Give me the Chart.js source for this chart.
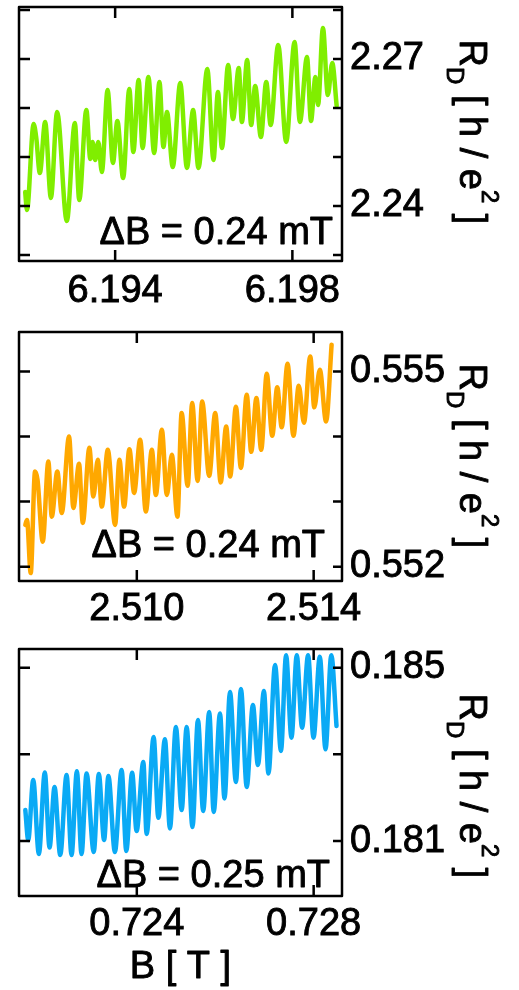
<!DOCTYPE html>
<html lang="en">
<head>
  <meta charset="UTF-8" />
  <title>R_D oscillations</title>
  <script src="https://cdn.jsdelivr.net/npm/chart.js"></script>
  <style>
    body { margin: 0; background: #fff; }
    .panel { position: absolute; left: 0; }
  </style>
</head>
<body>
  <canvas id="c1" class="panel" width="519" height="320" style="top:0"></canvas>
  <canvas id="c2" class="panel" width="519" height="320" style="top:320px"></canvas>
  <canvas id="c3" class="panel" width="519" height="350" style="top:640px"></canvas>

  <script>
    // B around 6.196 T
    const b1 = [6.19197, 6.19201, 6.19216, 6.19222, 6.19230, 6.19242, 6.19255, 6.19269, 6.19291, 6.19309,
      6.19319, 6.19335, 6.19344, 6.19349, 6.19355, 6.19362, 6.19370, 6.19383, 6.19395, 6.19405,
      6.19418, 6.19432, 6.19441, 6.19453, 6.19462, 6.19475, 6.19488, 6.19500, 6.19509, 6.19517,
      6.19530, 6.19547, 6.19562, 6.19576, 6.19588, 6.19608, 6.19622, 6.19632, 6.19641, 6.19655,
      6.19666, 6.19679, 6.19686, 6.19698, 6.19707, 6.19716, 6.19729, 6.19741, 6.19751, 6.19768,
      6.19786, 6.19805, 6.19817, 6.19833, 6.19842, 6.19852, 6.19858, 6.19869, 6.19880, 6.19890, 6.19900];
    const r1 = [2.24286, 2.23918, 2.25673, 2.25388, 2.24673, 2.25714, 2.24163, 2.25918, 2.23694, 2.25694,
      2.24122, 2.25959, 2.24959, 2.25306, 2.24939, 2.25306, 2.24694, 2.26367, 2.24878, 2.25735,
      2.24571, 2.26388, 2.25102, 2.26571, 2.25184, 2.26633, 2.25082, 2.26531, 2.25204, 2.25918,
      2.24796, 2.26510, 2.24776, 2.25959, 2.24776, 2.26796, 2.24939, 2.26327, 2.25184, 2.26878,
      2.25776, 2.26816, 2.25714, 2.26980, 2.25653, 2.26449, 2.25408, 2.26531, 2.25653, 2.27286,
      2.25306, 2.27347, 2.25714, 2.27041, 2.25735, 2.26633, 2.26061, 2.27633, 2.26265, 2.26918, 2.26041];
    const xTicks1 = [6.194, 6.198];
    const yTicks1 = [2.24, 2.27];
    const yMarks1 = [2.23, 2.24, 2.25, 2.26, 2.27, 2.28];

    // B around 2.511 T
    const b2 = [2.507478, 2.507516, 2.507600, 2.507698, 2.507754, 2.507872, 2.507999, 2.508076, 2.508202, 2.508302,
      2.508467, 2.508565, 2.508694, 2.508777, 2.508927, 2.509017, 2.509117, 2.509208, 2.509343, 2.509509,
      2.509606, 2.509712, 2.509832, 2.509939, 2.510075, 2.510204, 2.510340, 2.510430, 2.510566, 2.510679,
      2.510792, 2.510919, 2.511014, 2.511150, 2.511252, 2.511376, 2.511478, 2.511637, 2.511773, 2.511897,
      2.512022, 2.512112, 2.512241, 2.512355, 2.512486, 2.512588, 2.512705, 2.512814, 2.512939, 2.513063,
      2.513176, 2.513278, 2.513409, 2.513543, 2.513663, 2.513781, 2.513923, 2.514014, 2.514139, 2.514281, 2.514406];
    const r2 = [0.552642, 0.552718, 0.551903, 0.553462, 0.553334, 0.552385, 0.553615, 0.552769, 0.553462, 0.552826,
      0.554000, 0.552903, 0.553580, 0.552672, 0.553826, 0.553077, 0.553642, 0.552923, 0.553795, 0.552642,
      0.553642, 0.552923, 0.553806, 0.553134, 0.553949, 0.552846, 0.553795, 0.553103, 0.554103, 0.553103,
      0.553718, 0.552769, 0.554360, 0.553242, 0.554514, 0.553318, 0.554538, 0.553395, 0.554360, 0.553295,
      0.554154, 0.553385, 0.554457, 0.553518, 0.554642, 0.553765, 0.554591, 0.553795, 0.554965, 0.554011,
      0.554757, 0.554142, 0.555118, 0.554011, 0.554780, 0.554211, 0.555231, 0.554449, 0.555026, 0.554231, 0.555411];
    const xTicks2 = [2.510, 2.514];
    const yTicks2 = [0.552, 0.555];
    const yMarks2 = [0.552, 0.553, 0.554, 0.555];

    // B around 0.725 T
    const b3 = [0.721478, 0.721544, 0.721657, 0.721784, 0.721919, 0.722026, 0.722139, 0.722268, 0.722411, 0.722524,
      0.722644, 0.722750, 0.722863, 0.723026, 0.723140, 0.723260, 0.723357, 0.723504, 0.723656, 0.723762,
      0.723894, 0.723995, 0.724147, 0.724222, 0.724380, 0.724487, 0.724636, 0.724749, 0.724883, 0.725014,
      0.725127, 0.725259, 0.725383, 0.725501, 0.725637, 0.725739, 0.725881, 0.725983, 0.726108, 0.726241,
      0.726355, 0.726486, 0.726626, 0.726739, 0.726875, 0.726977, 0.727127, 0.727260, 0.727376, 0.727498,
      0.727618, 0.727738, 0.727874, 0.727996, 0.728139, 0.728268, 0.728399, 0.728517];
    const r3 = [0.181716, 0.181024, 0.182408, 0.180700, 0.182581, 0.180850, 0.182247, 0.180677, 0.182524, 0.180677,
      0.182609, 0.180700, 0.182558, 0.180747, 0.182547, 0.181024, 0.182501, 0.180747, 0.182639, 0.180770,
      0.182577, 0.181231, 0.182824, 0.181162, 0.183401, 0.181538, 0.183348, 0.181289, 0.183631, 0.181716,
      0.183631, 0.181324, 0.183793, 0.181693, 0.183978, 0.181670, 0.183943, 0.181981, 0.184439, 0.182362,
      0.184508, 0.182247, 0.184139, 0.182754, 0.184462, 0.182558, 0.185062, 0.183078, 0.185288, 0.183385,
      0.185288, 0.183615, 0.185288, 0.183385, 0.185252, 0.183117, 0.185288, 0.183655];
    const xTicks3 = [0.724, 0.728];
    const yTicks3 = [0.181, 0.185];
    const yMarks3 = [0.181, 0.183, 0.185];

    const FONT = "'Liberation Sans', Arial, Helvetica, sans-serif";
    const W = 519;
    const STROKE = 0.9; // slightly heavier glyphs

    // filled + stroked text so it reads as heavy as the tick labels
    function heavyText(ctx, s, x, y) {
      ctx.fillText(s, x, y);
      ctx.strokeText(s, x, y);
    }

    // box, inward tick marks, period label and the axis titles
    const framePlugin = {
      id: 'frame',
      afterDraw(chart, args, o) {
        const { ctx, chartArea: a } = chart;
        const x = chart.scales.x, y = chart.scales.y;
        ctx.save();

        ctx.fillStyle = '#000';
        ctx.strokeStyle = '#000';
        ctx.lineWidth = STROKE;
        ctx.lineJoin = 'round';
        ctx.font = '38px ' + FONT;
        ctx.textAlign = 'right';
        ctx.textBaseline = 'alphabetic';
        heavyText(ctx, o.note, o.noteX, o.noteY);

        if (o.xTitle) {
          ctx.textAlign = 'center';
          heavyText(ctx, o.xTitle, (a.left + a.right) / 2, o.xTitleY);
        }

        ctx.lineWidth = 2.5;
        ctx.strokeRect(a.left, a.top, a.right - a.left, a.bottom - a.top);
        ctx.beginPath();
        o.xMarks.forEach(v => {
          const px = x.getPixelForValue(v);
          ctx.moveTo(px, a.top); ctx.lineTo(px, a.top + 11);
          ctx.moveTo(px, a.bottom); ctx.lineTo(px, a.bottom - 11);
        });
        o.yMarks.forEach(v => {
          const py = y.getPixelForValue(v);
          ctx.moveTo(a.left, py); ctx.lineTo(a.left + 11, py);
          ctx.moveTo(a.right, py); ctx.lineTo(a.right - 9, py);
        });
        ctx.stroke();

        // R_D [ h / e^2 ], reading top to bottom
        const big = '38px ' + FONT, small = '24px ' + FONT;
        const parts = [['R', big, 0], ['D', small, 13], [' [ h / e', big, 0], ['2', small, -22], [' ]', big, 0]];
        let len = 0;
        parts.forEach(p => { ctx.font = p[1]; len += ctx.measureText(p[0]).width; });
        ctx.translate(460, o.titleMid - len / 2);
        ctx.rotate(Math.PI / 2);
        ctx.textAlign = 'left';
        ctx.lineWidth = STROKE;
        let pos = 0;
        parts.forEach(p => {
          ctx.font = p[1];
          heavyText(ctx, p[0], pos, p[2]);
          pos += ctx.measureText(p[0]).width;
        });
        ctx.restore();
      }
    };

    function makePanel(id, b, r, color, p) {
      const canvas = document.getElementById(id);
      return new Chart(canvas, {
        type: 'line',
        data: {
          datasets: [{
            data: b.map((v, i) => ({ x: v, y: r[i] })),
            borderColor: color,
            borderWidth: 4.5,
            pointRadius: 0,
            cubicInterpolationMode: 'monotone',
            borderJoinStyle: 'round',
            borderCapStyle: 'round',
            fill: false
          }]
        },
        options: {
          responsive: false,
          animation: false,
          devicePixelRatio: 1,
          layout: { padding: { left: 19, top: p.top, right: 0, bottom: 0 } },
          plugins: {
            legend: { display: false },
            tooltip: { enabled: false },
            frame: p.frame
          },
          scales: {
            x: {
              type: 'linear',
              position: 'bottom',
              min: p.xMin, max: p.xMax,
              grid: { display: false, drawTicks: false },
              border: { display: false },
              afterBuildTicks: s => { s.ticks = p.xTicks.map(v => ({ value: v })); },
              afterFit: s => { s.height = canvas.height - p.bottom; s.paddingLeft = 0; s.paddingRight = 0; },
              ticks: {
                color: '#000', padding: p.xPad, maxRotation: 0, autoSkip: false,
                textStrokeColor: '#000', textStrokeWidth: STROKE,
                font: { size: 38, family: FONT },
                callback: v => v.toFixed(3)
              }
            },
            y: {
              type: 'linear',
              position: 'right',
              min: p.yMin, max: p.yMax,
              grid: { display: false, drawTicks: false },
              border: { display: false },
              afterBuildTicks: s => { s.ticks = p.yTicks.map(v => ({ value: v })); },
              afterFit: s => { s.width = W - 342; s.paddingTop = 0; s.paddingBottom = 0; },
              ticks: {
                color: '#000', padding: 8, autoSkip: false,
                textStrokeColor: '#000', textStrokeWidth: STROKE,
                font: { size: 38, family: FONT },
                callback: v => v.toFixed(p.yDigits)
              }
            }
          }
        },
        plugins: [framePlugin]
      });
    }

    makePanel('c1', b1, r1, '#80ee00', {
      top: 7, bottom: 261, xPad: 8,
      xMin: 6.19183, xMax: 6.19912, yMin: 2.22878, yMax: 2.28061,
      xTicks: xTicks1, yTicks: yTicks1, yDigits: 2,
      frame: { xMarks: xTicks1, yMarks: yMarks1, note: '\u0394B = 0.24 mT', noteX: 333, noteY: 244, titleMid: 132 }
    });

    makePanel('c2', b2, r2, '#ffa800', {
      top: 12, bottom: 261, xPad: 6,
      xMin: 2.507335, xMax: 2.514641, yMin: 0.55178, yMax: 0.555606,
      xTicks: xTicks2, yTicks: yTicks2, yDigits: 3,
      frame: { xMarks: xTicks2, yMarks: yMarks2, note: '\u0394B = 0.24 mT', noteX: 325, noteY: 237, titleMid: 136 }
    });

    makePanel('c3', b3, r3, '#0aaaf5', {
      top: 9, bottom: 256, xPad: 6,
      xMin: 0.721335, xMax: 0.728641, yMin: 0.179731, yMax: 0.185432,
      xTicks: xTicks3, yTicks: yTicks3, yDigits: 3,
      frame: { xMarks: xTicks3, yMarks: yMarks3, note: '\u0394B = 0.25 mT', noteX: 330, noteY: 247, titleMid: 146,
        xTitle: 'B [ T ]', xTitleY: 338 }
    });
  </script>
</body>
</html>
